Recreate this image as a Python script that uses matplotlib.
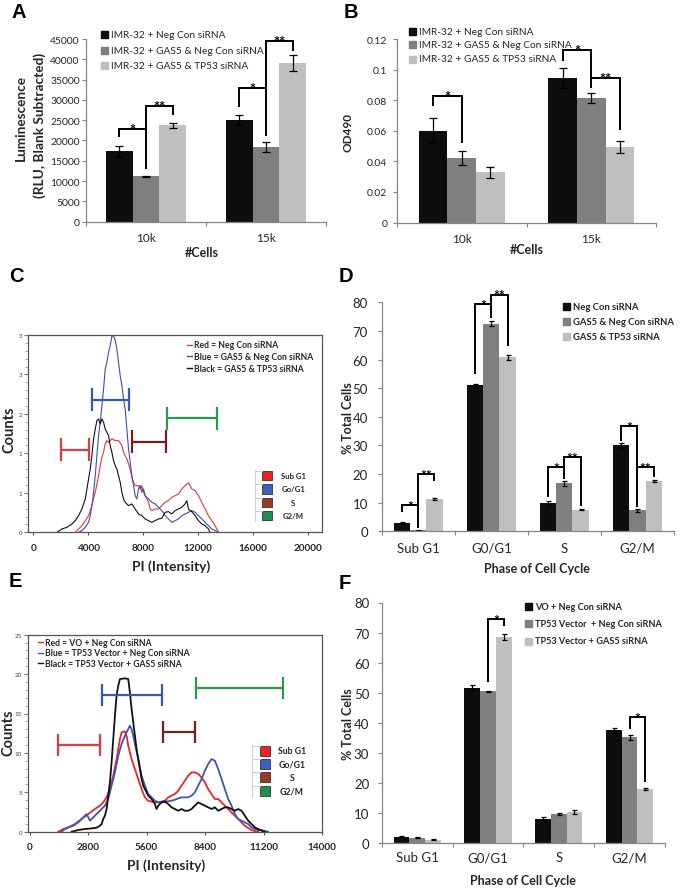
import matplotlib
matplotlib.use('Agg')
import matplotlib.pyplot as plt
from matplotlib.patches import Rectangle
from matplotlib.lines import Line2D
import numpy as np

plt.rcParams['font.family'] = ['Lato', 'DejaVu Sans']

# ---------------- data ----------------
cells = ['10k', '15k']
ab_series = ['IMR-32 + Neg Con siRNA', 'IMR-32 + GAS5 & Neg Con siRNA', 'IMR-32 + GAS5 & TP53 siRNA']
lum_neg = [17300, 25000]
lum_neg_err = [1300, 1300]
lum_gas5 = [11200, 18400]
lum_gas5_err = [150, 1200]
lum_tp53 = [23700, 39100]
lum_tp53_err = [600, 2000]

od_neg = [0.0601, 0.0945]
od_neg_err = [0.008, 0.0065]
od_gas5 = [0.0422, 0.0815]
od_gas5_err = [0.0045, 0.0035]
od_tp53 = [0.0328, 0.0492]
od_tp53_err = [0.0035, 0.004]

phases = ['Sub G1', 'G0/G1', 'S', 'G2/M']
d_series = ['Neg Con siRNA', 'GAS5 & Neg Con siRNA', 'GAS5 & TP53 siRNA']
d_neg = [2.9, 51.0, 10.0, 30.0]
d_neg_err = [0.3, 0.6, 0.7, 0.9]
d_gas5 = [0.3, 72.5, 16.7, 7.3]
d_gas5_err = [0.1, 0.8, 0.7, 0.4]
d_tp53 = [11.3, 60.8, 7.6, 17.6]
d_tp53_err = [0.5, 0.8, 0.3, 0.3]

f_series = ['VO + Neg Con siRNA', 'TP53 Vector  + Neg Con siRNA', 'TP53 Vector + GAS5 siRNA']
f_vo = [2.1, 51.6, 8.0, 37.5]
f_vo_err = [0.2, 0.8, 0.6, 0.9]
f_tp53 = [1.7, 50.4, 9.6, 35.1]
f_tp53_err = [0.2, 0.3, 0.3, 0.8]
f_gas5 = [1.1, 68.6, 10.4, 18.0]
f_gas5_err = [0.2, 1.0, 0.6, 0.4]

# significance brackets: (group, bar i, bar j, y at i, bracket level, y at j, label)
a_sig = [(0, 0, 1, 20850, 22820, 12960, '*'), (0, 1, 2, 22820, 28490, 26270, '**'),
         (1, 0, 1, 28240, 32920, 21090, '*'), (1, 1, 2, 32920, 44500, 42040, '**')]
b_sig = [(0, 0, 1, 0.0764, 0.0826, 0.0518, '*'), (1, 0, 1, 0.1058, 0.1128, 0.0878, '*'),
         (1, 1, 2, 0.0947, 0.0947, 0.0607, '**')]
d_sig = [(0, 0, 1, 6.6, 9.2, 1.0, '*'), (0, 1, 2, 9.2, 20.0, 17.7, '**'),
         (1, 0, 1, 55.0, 79.4, 74.5, '*'), (1, 1, 2, 79.4, 82.7, 64.9, '**'),
         (2, 0, 1, 11.9, 22.4, 18.3, '*'), (2, 1, 2, 22.4, 25.8, 9.0, '**'),
         (3, 0, 1, 31.7, 36.9, 8.4, '*'), (3, 1, 2, 22.4, 22.4, 18.9, '**')]
f_sig = [(1, 1, 2, 53.4, 74.5, 72.3, '*'), (3, 1, 2, 37.9, 42.0, 20.2, '*')]

# flow cytometry histograms (PI intensity, counts)
c_legend = ['Red = Neg Con siRNA', 'Blue = GAS5 & Neg Con siRNA', 'Black = GAS5 & TP53 siRNA']
c_red = [(3054, 0), (3297, 0.055), (3539, 0.11), (3782, 0.19), (4024, 0.275), (4266, 0.44), (4509, 0.66),
         (4751, 0.93), (4872, 1.10), (4994, 1.235), (5115, 1.32), (5236, 1.455), (5357, 1.51), (5478, 1.48),
         (5721, 1.54), (5963, 1.51), (6205, 1.51), (6448, 1.43), (6569, 1.32), (6690, 1.26), (6811, 1.21),
         (6933, 1.125), (7054, 1.04), (7175, 0.906), (7296, 0.824), (7417, 0.769), (7660, 0.769),
         (7781, 0.714), (7902, 0.769), (8023, 0.659), (8145, 0.604), (8387, 0.494), (8508, 0.384),
         (8629, 0.357), (8872, 0.384), (9114, 0.384), (9357, 0.439), (9599, 0.494), (9841, 0.522),
         (10084, 0.576), (10326, 0.604), (10569, 0.631), (10811, 0.714), (11053, 0.769), (11296, 0.813),
         (11417, 0.769), (11538, 0.714), (11781, 0.686), (12023, 0.604), (12266, 0.494), (12508, 0.384),
         (12750, 0.275), (12993, 0.192), (13235, 0.11), (13356, 0.055), (13477, 0)]
c_blue = [(3297, 0), (3539, 0.027), (3782, 0.082), (4024, 0.165), (4145, 0.275), (4266, 0.439), (4388, 0.659),
          (4509, 0.933), (4630, 1.263), (4751, 1.592), (4872, 1.812), (4994, 2.086), (5115, 2.361),
          (5236, 2.69), (5357, 2.8), (5478, 2.965), (5600, 3.074), (5721, 3.228), (5842, 3.239), (5963, 3.157),
          (6084, 3.02), (6205, 2.8), (6327, 2.58), (6448, 2.416), (6569, 2.196), (6690, 2.031), (6811, 1.702),
          (6933, 1.373), (7054, 1.153), (7175, 0.933), (7296, 0.769), (7417, 0.604), (7539, 0.549),
          (7660, 0.714), (7781, 0.769), (7902, 0.659), (8023, 0.714), (8145, 0.604), (8387, 0.549),
          (8629, 0.494), (8872, 0.467), (9114, 0.412), (9357, 0.357), (9599, 0.275), (9841, 0.22),
          (10084, 0.165), (10326, 0.192), (10569, 0.22), (10811, 0.275), (11053, 0.302), (11296, 0.33),
          (11538, 0.357), (11781, 0.33), (12023, 0.275), (12266, 0.22), (12508, 0.165), (12750, 0.11),
          (12993, 0.055), (13235, 0.027), (13477, 0)]
c_black = [(1721, 0), (2085, 0.055), (2448, 0.082), (2812, 0.137), (3054, 0.192), (3297, 0.275), (3539, 0.384),
           (3782, 0.549), (3903, 0.714), (4024, 0.878), (4145, 1.043), (4266, 1.263), (4388, 1.537),
           (4509, 1.702), (4630, 1.839), (4751, 1.867), (4872, 1.784), (4994, 1.867), (5115, 1.812),
           (5236, 1.702), (5478, 1.592), (5600, 1.427), (5721, 1.318), (5842, 1.18), (5963, 1.098),
           (6084, 1.043), (6205, 0.933), (6327, 0.824), (6448, 0.659), (6569, 0.549), (6690, 0.494),
           (6933, 0.439), (7175, 0.467), (7417, 0.384), (7660, 0.302), (7902, 0.275), (8145, 0.22),
           (8387, 0.192), (8629, 0.165), (8872, 0.192), (9114, 0.22), (9357, 0.231), (9599, 0.33),
           (9841, 0.34), (10084, 0.302), (10326, 0.357), (10569, 0.384), (10811, 0.412), (11053, 0.467),
           (11175, 0.522), (11296, 0.384), (11538, 0.34), (11781, 0.275), (12023, 0.192), (12266, 0.137),
           (12508, 0.11), (12750, 0.055), (12871, 0)]
c_gates = [(2012, 4072, 1.36), (4266, 6933, 2.18), (7175, 9648, 1.49), (9769, 13405, 1.88)]
c_xticks = [0, 4000, 8000, 12000, 16000, 20000]
c_yticks = [0, 0.65, 1.3, 1.95, 2.6, 3.25]
c_yticklabels = ['0', '1', '1', '2', '3', '3']

e_legend = ['Red = VO + Neg Con siRNA', 'Blue = TP53 Vector + Neg Con siRNA', 'Black = TP53 Vector + GAS5 siRNA']
e_red = [(1375, 0), (1614, 0.34), (1853, 0.55), (2172, 0.97), (2491, 1.61), (2810, 2.24), (3129, 2.88),
         (3369, 3.30), (3528, 3.72), (3688, 4.36), (3847, 5.41), (4007, 7.11), (4166, 9.22), (4326, 11.76),
         (4406, 12.61), (4565, 12.73), (4645, 12.18), (4725, 10.91), (4884, 9.22), (5044, 7.95), (5203, 6.68),
         (5363, 5.41), (5522, 4.36), (5682, 3.93), (5841, 3.81), (6001, 3.72), (6160, 3.72), (6319, 3.81),
         (6479, 3.93), (6638, 4.36), (6798, 4.57), (6957, 4.78), (7117, 5.20), (7276, 5.84), (7436, 6.47),
         (7595, 7.11), (7755, 7.53), (7914, 7.53), (8074, 7.32), (8233, 6.90), (8393, 6.26), (8552, 5.41),
         (8712, 4.78), (8871, 4.15), (9031, 4.15), (9190, 3.72), (9350, 3.30), (9509, 2.88), (9669, 2.45),
         (9828, 2.03), (9988, 1.61), (10147, 1.18), (10307, 0.76), (10466, 0.47), (10626, 0.21), (10785, 0.08),
         (10945, 0)]
e_blue = [(1534, 0), (1694, 0.34), (1853, 0.55), (2093, 0.76), (2332, 1.18), (2571, 1.82), (2731, 2.24),
          (2890, 1.40), (3050, 1.82), (3209, 2.24), (3369, 2.66), (3528, 3.09), (3608, 3.30), (3768, 4.15),
          (3927, 5.84), (4087, 7.53), (4246, 9.64), (4406, 11.13), (4565, 12.18), (4725, 13.03), (4804, 13.45),
          (4884, 13.03), (4964, 12.18), (5044, 11.13), (5203, 9.22), (5363, 7.11), (5522, 5.84), (5682, 4.78),
          (5841, 4.36), (6001, 3.93), (6160, 3.72), (6319, 3.81), (6479, 3.85), (6638, 3.85), (6798, 3.93),
          (6957, 4.06), (7117, 4.23), (7276, 4.36), (7436, 4.36), (7595, 4.36), (7755, 4.57), (7914, 4.99),
          (8074, 5.84), (8233, 6.68), (8393, 7.74), (8552, 8.59), (8712, 9.22), (8871, 9.01), (9031, 7.95),
          (9190, 6.68), (9350, 5.41), (9509, 4.15), (9669, 3.30), (9828, 2.24), (9988, 1.61), (10147, 1.40),
          (10307, 1.18), (10466, 0.97), (10626, 0.55), (10785, 0.34), (10945, 0.21), (11104, 0.21),
          (11264, 0.08), (11423, 0)]
e_black = [(2013, 0), (2332, 0.21), (2651, 0.34), (2970, 0.42), (3209, 0.51), (3369, 0.76), (3448, 0.97),
           (3528, 1.61), (3608, 2.03), (3688, 2.88), (3768, 4.57), (3847, 6.26), (3927, 8.80), (4007, 11.76),
           (4087, 14.72), (4166, 17.26), (4246, 18.53), (4326, 19.37), (4565, 19.46), (4725, 19.37),
           (4804, 17.68), (4884, 15.57), (4964, 13.87), (5044, 12.18), (5123, 10.49), (5203, 9.22), (5283, 7.95),
           (5363, 6.68), (5442, 5.84), (5522, 5.41), (5682, 4.57), (5841, 4.15), (6001, 3.51), (6080, 2.88),
           (6160, 3.30), (6319, 3.72), (6479, 3.81), (6638, 3.51), (6798, 3.09), (6957, 2.88), (7117, 2.66),
           (7276, 2.88), (7436, 2.66), (7595, 2.66), (7755, 2.88), (7914, 3.30), (8074, 3.72), (8233, 3.51),
           (8393, 3.30), (8552, 3.09), (8712, 2.88), (8871, 3.09), (9031, 2.66), (9190, 2.88), (9350, 3.09),
           (9509, 3.09), (9669, 2.88), (9828, 2.66), (9988, 2.88), (10147, 2.66), (10307, 2.03), (10466, 1.40),
           (10626, 0.97), (10785, 0.55), (10945, 0.34), (11104, 0.13), (11264, 0)]
e_gates = [(1375, 3369, 11.0), (3448, 6319, 17.34), (6367, 7914, 12.6), (7946, 12110, 18.23)]
e_xticks = [0, 2800, 5600, 8400, 11200, 14000]
e_yticks = [0, 5, 10, 15, 20, 25]
e_yticklabels = ['0', '5', '10', '15', '20', '25']

gate_names = ['Sub G1', 'Go/G1', 'S', 'G2/M']

# ---------------- style ----------------
BAR_COLORS = ['#0d0d0d', '#7f7f7f', '#bfbfbf']
AX_GRAY = '#868686'
TXT = '#262626'
GATE_COLORS = ['#e23a3e', '#3d56b2', '#7a1c1c', '#2a9a4e']
SQUARE_COLORS = ['#ec2228', '#3f5fbf', '#9a3a26', '#1f8f4f']

W, H = 680, 895
fig = plt.figure(figsize=(W / 100, H / 100), dpi=100)


def axes_px(l, t, r, b):
    return fig.add_axes([l / W, 1 - b / H, (r - l) / W, (b - t) / H])


def ftext(px, py, s, **kw):
    return fig.text(px / W, 1 - py / H, s, **kw)


BW = 0.222


def bar_panel(ax, cats, vals, errs, ymax, yticks, ytl, yfs, ypad, xfs, xpad, cap):
    x = np.arange(len(cats))
    for i in range(3):
        ax.bar(x + (i - 1) * BW, vals[i], BW, color=BAR_COLORS[i], yerr=errs[i], capsize=cap,
               error_kw=dict(elinewidth=0.9, capthick=0.9, ecolor='black'), zorder=2)
    ax.set_xlim(-0.5, len(cats) - 0.5)
    ax.set_ylim(0, ymax)
    for s in ['top', 'right']:
        ax.spines[s].set_visible(False)
    for s in ['left', 'bottom']:
        ax.spines[s].set_color(AX_GRAY)
        ax.spines[s].set_linewidth(0.9)
    ax.set_yticks(yticks)
    ax.set_yticklabels(ytl, fontsize=yfs, color=TXT)
    ax.tick_params(axis='y', color=AX_GRAY, length=3, width=0.8, pad=ypad)
    ax.set_xticks(np.arange(len(cats) + 1) - 0.5)
    ax.set_xticklabels([])
    ax.tick_params(axis='x', which='major', color=AX_GRAY, length=3, width=0.8)
    ax.set_xticks(x, minor=True)
    ax.set_xticklabels(cats, minor=True, fontsize=xfs, color=TXT)
    ax.tick_params(axis='x', which='minor', length=0, pad=xpad)


def brackets(ax, sigs, fs):
    for g, i, j, yi, lev, yj, lab in sigs:
        xi = g + (i - 1) * BW
        xj = g + (j - 1) * BW
        ax.plot([xi, xi, xj, xj], [yi, lev, lev, yj], color='black', lw=1.4, clip_on=False,
                zorder=4, solid_joinstyle='miter', solid_capstyle='butt')
        ax.annotate(lab, ((xi + xj) / 2, lev), xytext=(0, -3.5), textcoords='offset points',
                    ha='center', va='baseline', fontsize=fs, fontweight='bold', annotation_clip=False)


def bar_legend(labels, x, ys, fs, sq, bold):
    for lab, y, c in zip(labels, ys, BAR_COLORS):
        fig.add_artist(Rectangle((x / W, 1 - (y + sq / 2) / H), sq / W, sq / H, color=c,
                                 transform=fig.transFigure))
        ftext(x + sq + 3, y, lab, fontsize=fs, va='center', ha='left', color=TXT,
              fontweight='bold' if bold else 'normal')


# ---------------- Panel A ----------------
axA = axes_px(86, 40, 326, 222.6)
bar_panel(axA, cells, [lum_neg, lum_gas5, lum_tp53], [lum_neg_err, lum_gas5_err, lum_tp53_err],
          45000, np.arange(0, 45001, 5000), [str(v) for v in range(0, 45001, 5000)], 7.5, 1.5, 8.5, 7.5, 2.6)
brackets(axA, a_sig, 10.5)
bar_legend(ab_series, 101, [35.5, 51, 66.5], 7.3, 7, False)
ftext(21, 118, 'Luminescence', rotation=90, fontsize=9.8, fontweight='bold', ha='center', va='center', color=TXT)
ftext(40, 125, '(RLU, Blank Subtracted)', rotation=90, fontsize=9.8, fontweight='bold', ha='center',
      va='center', color=TXT)
ftext(202, 253, '#Cells', fontsize=9, fontweight='bold', ha='center', va='center', color=TXT)

# ---------------- Panel B ----------------
axB = axes_px(397, 40, 656, 223.6)
bar_panel(axB, cells, [od_neg, od_gas5, od_tp53], [od_neg_err, od_gas5_err, od_tp53_err],
          0.12, [0, 0.02, 0.04, 0.06, 0.08, 0.1, 0.12], ['0', '0.02', '0.04', '0.06', '0.08', '0.1', '0.12'],
          7.5, 4, 8.5, 7.5, 2.6)
brackets(axB, b_sig, 10.5)
bar_legend(ab_series, 409, [32.3, 45.7, 60], 7.3, 7, False)
ftext(348, 133, 'OD490', rotation=90, fontsize=8.5, fontweight='bold', ha='center', va='center', color=TXT)
ftext(527, 250, '#Cells', fontsize=9, fontweight='bold', ha='center', va='center', color=TXT)

# ---------------- Panel D ----------------
axD = axes_px(381.7, 303.3, 674, 532.3)
bar_panel(axD, phases, [d_neg, d_gas5, d_tp53], [d_neg_err, d_gas5_err, d_tp53_err],
          80, np.arange(0, 81, 10), [str(v) for v in range(0, 81, 10)], 9.5, 7, 9.5, 7.5, 1.8)
brackets(axD, d_sig, 10)
bar_legend(d_series, 562.7, [307.7, 322.7, 337.7], 6.8, 7, True)
ftext(348, 418, '% Total Cells', rotation=90, fontsize=9, fontweight='bold', ha='center', va='center',
      color=TXT)
ftext(537, 569, 'Phase of Cell Cycle', fontsize=9, fontweight='bold', ha='center', va='center', color=TXT)

# ---------------- Panel F ----------------
axF = axes_px(381.7, 603.5, 665, 844)
bar_panel(axF, phases, [f_vo, f_tp53, f_gas5], [f_vo_err, f_tp53_err, f_gas5_err],
          80, np.arange(0, 81, 10), [str(v) for v in range(0, 81, 10)], 9.5, 6, 9.5, 6, 1.8)
brackets(axF, f_sig, 10)
bar_legend(f_series, 525, [607.3, 624.7, 642], 6.6, 7, True)
ftext(348, 724, '% Total Cells', rotation=90, fontsize=9, fontweight='bold', ha='center', va='center',
      color=TXT)
ftext(523, 881, 'Phase of Cell Cycle', fontsize=9, fontweight='bold', ha='center', va='center', color=TXT)


# ---------------- Flow panels ----------------
def flow_panel(ax, curves, gates, xlim, ylim, xticks, yticks, ytl, lw, half, xpad):
    for pts, col in curves:
        xs, ys = zip(*pts)
        ax.plot(xs, ys, color=col, lw=lw, zorder=2)
    for (x0, x1, yv), col in zip(gates, GATE_COLORS):
        ax.hlines(yv, x0, x1, color=col, lw=1.6, zorder=3)
        ax.vlines([x0, x1], yv - half, yv + half, color=col, lw=1.6, zorder=3)
    ax.set_xlim(*xlim)
    ax.set_ylim(*ylim)
    for s in ax.spines.values():
        s.set_color('#555555')
        s.set_linewidth(0.9)
    ax.set_xticks(xticks)
    ax.set_xticklabels([str(v) for v in xticks], fontsize=7.2, fontweight='bold', color=TXT)
    ax.tick_params(axis='x', length=2, color='#555555', pad=xpad)
    ax.set_yticks(yticks)
    ax.set_yticklabels(ytl, fontsize=4.5, color='#444444')
    ax.set_yticks(np.linspace(ylim[0], ylim[1], 26), minor=True)
    ax.tick_params(axis='y', which='major', length=3, color='#777777', pad=1.5)
    ax.tick_params(axis='y', which='minor', length=2, color='#999999')


def line_legend(labels, x, ys, cols, fs):
    for lab, y, c in zip(labels, ys, cols):
        fig.add_artist(Line2D([x / W, (x + 5) / W], [1 - y / H, 1 - y / H], color=c, lw=1.0,
                              transform=fig.transFigure))
        ftext(x + 7.5, y, lab, fontsize=fs, fontweight='bold', ha='left', va='center', color=TXT)


def phase_legend(x_sq, ys, x_tree, x_lab, fs, sq):
    top = ys[0] - sq / 2 - 1
    bot = ys[-1] + sq / 2 + 1
    fig.add_artist(Line2D([x_tree / W] * 2, [1 - top / H, 1 - bot / H], color='#d0d0d0', lw=0.8,
                          transform=fig.transFigure))
    for y, c, name in zip(ys, SQUARE_COLORS, gate_names):
        fig.add_artist(Line2D([x_tree / W, x_sq / W], [1 - (y - sq / 2) / H] * 2, color='#d0d0d0', lw=0.8,
                              transform=fig.transFigure))
        fig.add_artist(Rectangle((x_sq / W, 1 - (y + sq / 2) / H), sq / W, sq / H, facecolor=c,
                                 edgecolor='#333333', lw=0.6, transform=fig.transFigure))
        ftext(x_lab, y, name, fontsize=fs, fontweight='bold', ha='center', va='center', color=TXT)


CURVE_COLORS_C = ['#e8363a', '#3c4fb0', '#111111']
axC = axes_px(28.3, 336, 322, 533.3)
flow_panel(axC, [(c_red, CURVE_COLORS_C[0]), (c_blue, CURVE_COLORS_C[1]), (c_black, CURVE_COLORS_C[2])],
           c_gates, (-364, 21018), (0, 3.25), c_xticks, c_yticks, c_yticklabels, 0.8, 0.19, 6)
line_legend(c_legend, 186.5, [346, 357.3, 369], CURVE_COLORS_C, 6.2)
phase_legend(262, [476.7, 490, 503.3, 516.7], 255, 293.3, 5.6, 9.5)
ftext(10, 430, 'Counts', rotation=90, fontsize=10.5, fontweight='bold', ha='center', va='center', color=TXT)
ftext(171, 567, 'PI (Intensity)', fontsize=10, fontweight='bold', ha='center', va='center', color=TXT)

CURVE_COLORS_E = ['#e8262a', '#3b55b8', '#111111']
axE = axes_px(28.3, 635.7, 322, 832.7)
flow_panel(axE, [(e_red, CURVE_COLORS_E[0]), (e_blue, CURVE_COLORS_E[1]), (e_black, CURVE_COLORS_E[2])],
           e_gates, (-60, 14000), (0, 25), e_xticks, e_yticks, e_yticklabels, 1.3, 1.4, 5.5)
line_legend(e_legend, 37.5, [643.3, 654, 664.3], CURVE_COLORS_E, 6.2)
phase_legend(260, [751.7, 765.3, 778.3, 791.7], 252.3, 291.7, 6.3, 10)
ftext(9, 733, 'Counts', rotation=90, fontsize=10.5, fontweight='bold', ha='center', va='center', color=TXT)
ftext(166, 866, 'PI (Intensity)', fontsize=10, fontweight='bold', ha='center', va='center', color=TXT)

# ---------------- panel letters ----------------
for lab, px, py in [('A', 12, 12.5), ('B', 344, 12.5), ('C', 9, 276), ('D', 339, 276.5),
                    ('E', 9, 581.5), ('F', 339, 584)]:
    ftext(px, py, lab, fontsize=14.5, fontweight='bold', ha='left', va='center', color='black',
          family=['Liberation Sans', 'DejaVu Sans'])

fig.savefig('out.png', dpi=100)
